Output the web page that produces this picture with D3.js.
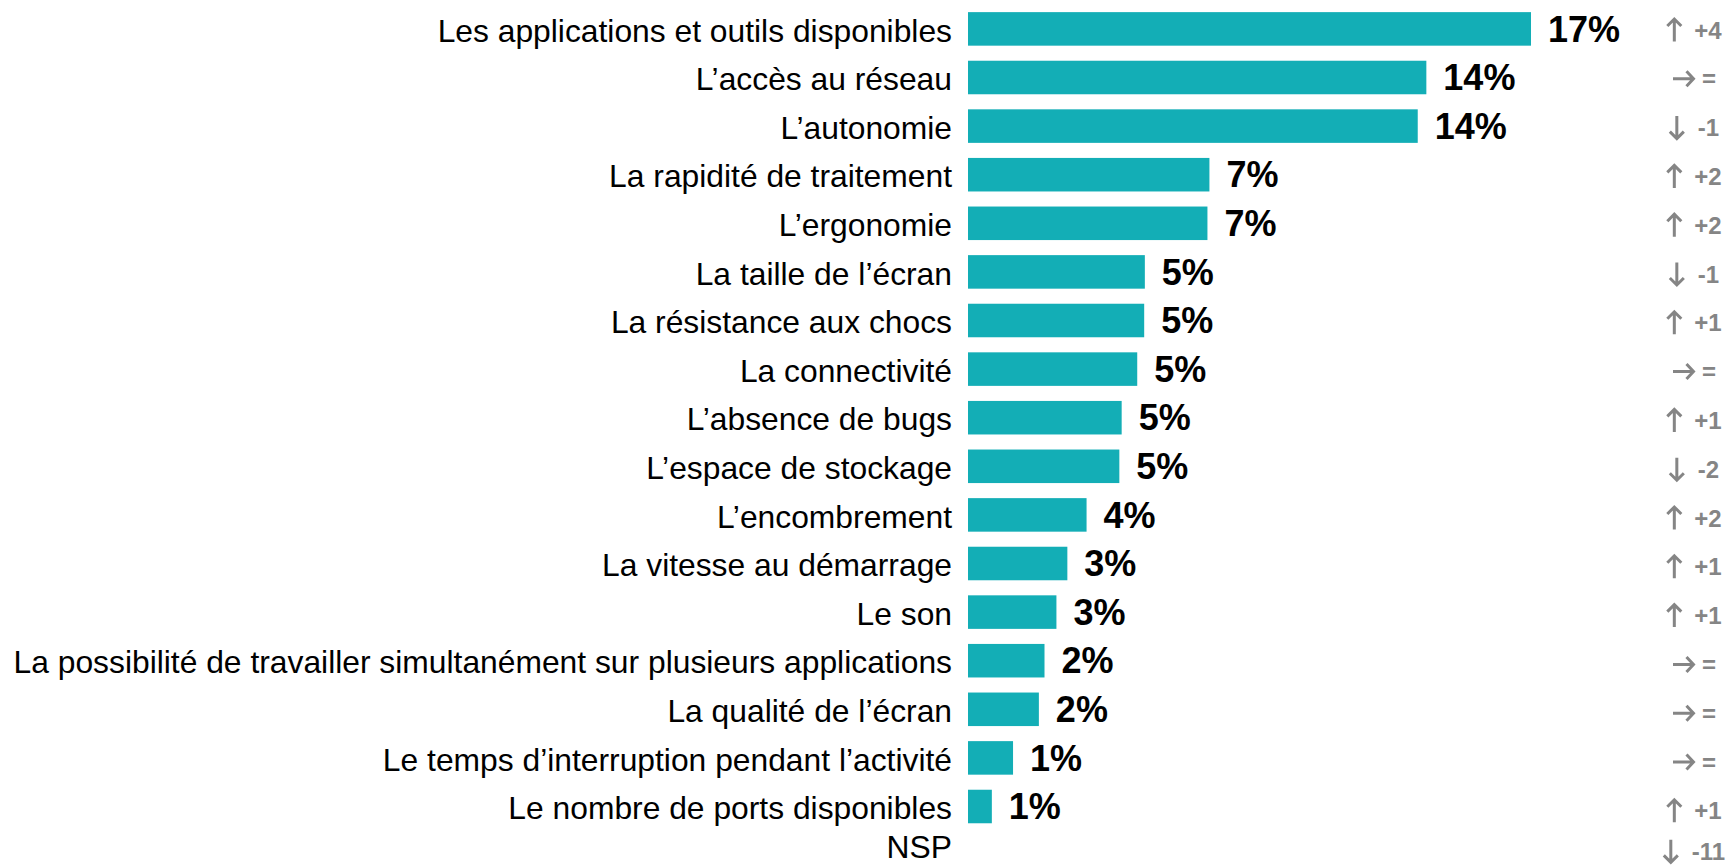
<!DOCTYPE html>
<html>
<head>
<meta charset="utf-8">
<script src="https://cdn.jsdelivr.net/npm/d3@7"></script>
<style>
  html, body { margin: 0; padding: 0; background: #fff; overflow: hidden; }
  svg { display: block; }
</style>
</head>
<body>
<svg id="chart" width="1730" height="866"></svg>
<script>
const categories = [
  "Les applications et outils disponibles",
  "L’accès au réseau",
  "L’autonomie",
  "La rapidité de traitement",
  "L’ergonomie",
  "La taille de l’écran",
  "La résistance aux chocs",
  "La connectivité",
  "L’absence de bugs",
  "L’espace de stockage",
  "L’encombrement",
  "La vitesse au démarrage",
  "Le son",
  "La possibilité de travailler simultanément sur plusieurs applications",
  "La qualité de l’écran",
  "Le temps d’interruption pendant l’activité",
  "Le nombre de ports disponibles",
  "NSP"
];
const values = [17, 13.84, 13.58, 7.29, 7.23, 5.34, 5.32, 5.11, 4.64, 4.57, 3.58, 3.00, 2.67, 2.31, 2.14, 1.36, 0.72, null];
const valueLabels = ["17%", "14%", "14%", "7%", "7%", "5%", "5%", "5%", "5%", "5%", "4%", "3%", "3%", "2%", "2%", "1%", "1%", null];
const deltas = ["+4", "=", "-1", "+2", "+2", "-1", "+1", "=", "+1", "-2", "+2", "+1", "+1", "=", "=", "=", "+1", "-11"];

const data = categories.map((c, i) => ({ cat: c, value: values[i], label: valueLabels[i], delta: deltas[i] }));

const W = 1730, H = 866;
const svg = d3.select("#chart");
const step = 48.6;
const top0 = 4.6;

const y = d3.scaleBand()
  .domain(categories)
  .range([top0, top0 + categories.length * step])
  .paddingInner(0.31)
  .paddingOuter(0.155);

const yDelta = d3.scaleBand()
  .domain(categories)
  .range([5.6, 5.6 + categories.length * 48.8]);

const x = d3.scaleLinear().domain([0, 17]).range([968, 1531]);

// keep a text inside the picture (the reference clips the last row)
function keepInside(sel) {
  sel.each(function () {
    const b = this.getBBox();
    const over = b.y + b.height - (H - 1);
    if (over > 0) {
      d3.select(this).attr("transform", `translate(0,${-over})`);
    }
  });
}

// category labels
svg.append("g").selectAll("text")
  .data(data).join("text")
  .attr("x", 952)
  .attr("y", d => y(d.cat) + y.bandwidth() / 2)
  .attr("dy", "0.4em")
  .attr("text-anchor", "end")
  .attr("font-family", "'Liberation Sans', Arial, sans-serif")
  .attr("font-size", 31.8)
  .attr("fill", "#000")
  .text(d => d.cat)
  .call(keepInside);

// bars
const barData = data.filter(d => d.value != null);
svg.append("g").selectAll("rect")
  .data(barData).join("rect")
  .attr("x", x(0))
  .attr("y", d => y(d.cat))
  .attr("width", d => x(d.value) - x(0))
  .attr("height", y.bandwidth())
  .attr("fill", "#13AEB6");

// value labels
svg.append("g").selectAll("text")
  .data(barData).join("text")
  .attr("x", d => x(d.value) + 17)
  .attr("y", d => y(d.cat) + y.bandwidth() / 2)
  .attr("dy", "0.35em")
  .attr("font-family", "'Liberation Sans', Arial, sans-serif")
  .attr("font-weight", "bold")
  .attr("font-size", 36)
  .attr("fill", "#000")
  .text(d => d.label);

// deltas column: arrow + change
const grey = "#858585";
const dirOf = s => s.startsWith("+") ? "up" : (s.startsWith("-") ? "down" : "right");
const arrowW = { up: 14, down: 14, right: 21 };
const gap = { up: 13, down: 14, right: 8 };
const colCenter = 1694.5;

const rows = svg.append("g").selectAll("g")
  .data(data).join("g")
  .attr("class", "delta");

rows.each(function (d) {
  const g = d3.select(this);
  const cy = yDelta(d.cat) + yDelta.bandwidth() / 2;
  const dir = dirOf(d.delta);
  const txt = g.append("text")
    .attr("y", cy)
    .attr("dy", "0.36em")
    .attr("font-family", "'Liberation Sans', Arial, sans-serif")
    .attr("font-weight", "bold")
    .attr("font-size", 24)
    .attr("fill", grey)
    .text(d.delta);
  const tw = txt.node().getComputedTextLength();
  const aw = arrowW[dir];
  const total = aw + gap[dir] + tw;
  const x0 = colCenter - total / 2;
  txt.attr("x", x0 + aw + gap[dir]);
  let p;
  if (dir === "up") {
    const cx = x0 + aw / 2, t = cy - 11.5, b = cy + 11.5;
    p = `M${cx},${b}L${cx},${t + 1}M${cx - 7},${t + 7.5}L${cx},${t + 0.5}L${cx + 7},${t + 7.5}`;
  } else if (dir === "down") {
    const cx = x0 + aw / 2, t = cy - 11.5, b = cy + 11.5;
    p = `M${cx},${t}L${cx},${b - 1}M${cx - 7},${b - 7.5}L${cx},${b - 0.5}L${cx + 7},${b - 7.5}`;
  } else {
    const l = x0, r = x0 + aw;
    p = `M${l},${cy}L${r - 1},${cy}M${r - 7.5},${cy - 7.5}L${r - 0.5},${cy}L${r - 7.5},${cy + 7.5}`;
  }
  g.append("path")
    .attr("d", p)
    .attr("fill", "none")
    .attr("stroke", grey)
    .attr("stroke-width", 3)
    .attr("stroke-linejoin", "miter");
});
rows.call(keepInside);
</script>
</body>
</html>
